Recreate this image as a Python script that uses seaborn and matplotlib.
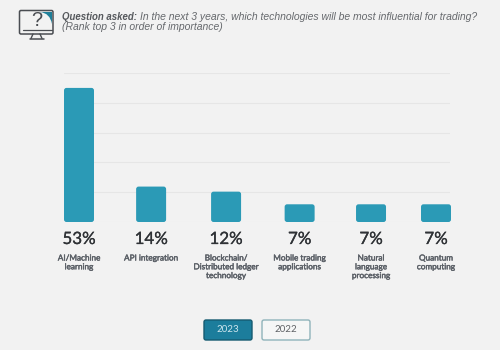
import matplotlib
matplotlib.use("Agg")
import matplotlib.pyplot as plt
import matplotlib.patheffects as pe
import numpy as np
import pandas as pd
import seaborn as sns
from matplotlib.patches import FancyBboxPatch, PathPatch
from matplotlib.path import Path

categories = ["AI/Machine\nlearning", "API integration",
              "Blockchain/\nDistributed ledger\ntechnology",
              "Mobile trading\napplications",
              "Natural\nlanguage\nprocessing",
              "Quantum\ncomputing"]
values = [53, 14, 12, 7, 7, 7]
years = ["2023", "2022"]
question = "In the next 3 years, which technologies will be most influential for trading?"
question2 = "(Rank top 3 in order of importance)"

BG = "#f2f2f2"
TEAL = "#2b9ab6"
SLOT = 71.4  # px between bar slots
PX_PER_UNIT = 2.53
# the bars are not evenly spaced in the original, nudge in slot units
nudge = [0, 0.01, 0.06, 0.09, 0.09, 0]

sns.set_theme(style="white")
plt.rcParams["font.family"] = ["Lato", "DejaVu Sans"]

fig = plt.figure(figsize=(5, 3.5), dpi=100, facecolor=BG)
ax = fig.add_axes([64 / 500, 128 / 350, 386 / 500, 149 / 350], facecolor=BG)

df = pd.DataFrame({"category": categories, "value": values})
sns.barplot(data=df, x="category", y="value", color=TEAL, width=0.42,
            saturation=1, ax=ax)
ax.set_xlim(-15 / SLOT, 5 + 14 / SLOT)
ax.set_ylim(0, 149 / PX_PER_UNIT)
ax.set_yticks(np.linspace(0, 149 / PX_PER_UNIT, 6))
ax.yaxis.grid(True, color="#e6e6e6", lw=0.8)
ax.set_axisbelow(True)
ax.tick_params(left=False, bottom=False, labelleft=False, labelbottom=False)
ax.set_xlabel("")
ax.set_ylabel("")
sns.despine(ax=ax, left=True, bottom=True)

# overlay in pixel coordinates for text and decorations
ov = fig.add_axes([0, 0, 1, 1], facecolor="none")
ov.set_xlim(0, 500)
ov.set_ylim(350, 0)
ov.axis("off")


def thicken(color, width):
    return [pe.withStroke(linewidth=width, foreground=color)]


# swap the square bars for rounded ones
for i, bar in enumerate(list(ax.patches)):
    x0 = bar.get_x() + nudge[i]
    rounded = FancyBboxPatch((x0, 0), bar.get_width(), bar.get_height(),
                             boxstyle="round,pad=0,rounding_size=0.035",
                             mutation_aspect=SLOT / PX_PER_UNIT,
                             fc=TEAL, ec="none", zorder=3, clip_on=False)
    bar.remove()
    ax.add_patch(rounded)
    cx = 79 + (i + nudge[i]) * SLOT
    ov.text(cx, 239, f"{values[i]}%", ha="center", va="center", fontsize=12.2,
            color="#2f3236", path_effects=thicken("#2f3236", 0.2))
    ov.text(cx, 254.5, categories[i], ha="center", va="top", fontsize=5.9,
            color="#5a5f66", linespacing=1.3, path_effects=thicken("#5a5f66", 0.3))

# question text
t = ov.text(62, 17, "Question asked:", fontsize=6.9, style="italic", fontweight="bold",
            family="Liberation Sans", color="#55585c", va="center")
fig.canvas.draw()
bb = t.get_window_extent().transformed(ov.transData.inverted())
ov.text(bb.x1 + 3, 17, question, fontsize=7.48, style="italic",
        family="Liberation Sans", color="#66696d", va="center")
ov.text(62, 27, question2, fontsize=7.45, style="italic",
        family="Liberation Sans", color="#66696d", va="center")

# monitor icon
ICON = "#4a4d52"
ov.add_patch(FancyBboxPatch((19.5, 10.5), 33.5, 23.5, boxstyle="round,pad=0,rounding_size=1.5",
                            fc=BG, ec=ICON, lw=1.1))
corner = Path([(40, 12), (50, 13), (52, 24), (52, 12), (40, 12)],
              [Path.MOVETO, Path.CURVE3, Path.CURVE3, Path.LINETO, Path.CLOSEPOLY])
ov.add_patch(PathPatch(corner, fc="#1f7f99", ec="none"))
ov.plot([23, 52], [29.5, 29.5], color=ICON, lw=0.9)
ov.plot([33, 31], [34, 38.5], color=ICON, lw=1)
ov.plot([40, 42], [34, 38.5], color=ICON, lw=1)
ov.plot([30, 43.5], [38.6, 38.6], color=ICON, lw=1.1)
ov.text(36.5, 21, "?", ha="center", va="center", fontsize=14.5, color=ICON,
        family="Liberation Sans")

# year buttons
ov.add_patch(FancyBboxPatch((204, 320), 48, 20, boxstyle="round,pad=0,rounding_size=2",
                            fc="#1c7d9c", ec="#155a70", lw=1))
ov.add_patch(FancyBboxPatch((262, 320), 48, 20, boxstyle="round,pad=0,rounding_size=2",
                            fc="#f5f6f6", ec="#8fb3ba", lw=1))
ov.text(228, 330, years[0], ha="center", va="center", fontsize=7, color="#cfe6ee")
ov.text(286, 330, years[1], ha="center", va="center", fontsize=7, color="#5f6266")

fig.savefig("out.png", dpi=100, facecolor=BG)
